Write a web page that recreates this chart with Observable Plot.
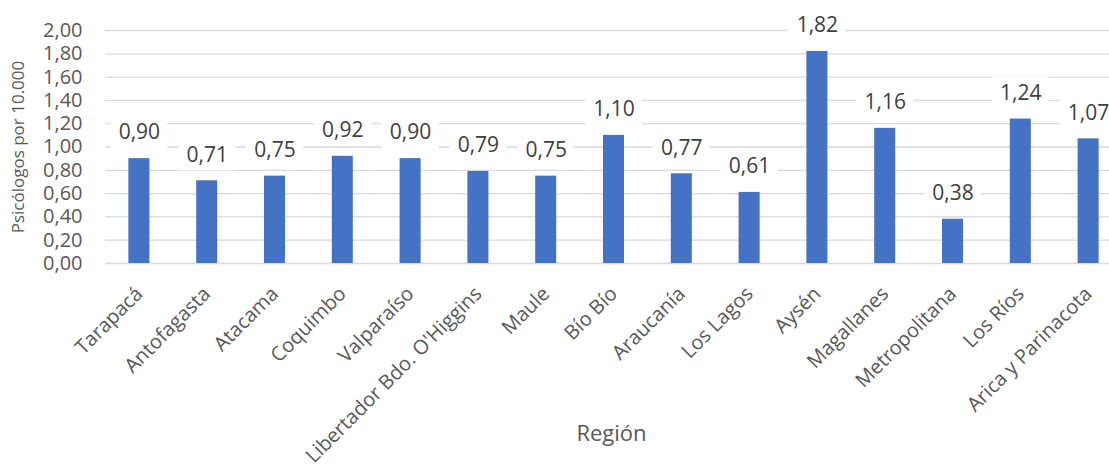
<!DOCTYPE html>
<html>
<head>
<meta charset="utf-8">
<script src="https://cdn.jsdelivr.net/npm/d3@7"></script>
<script src="https://cdn.jsdelivr.net/npm/@observablehq/plot@0.6"></script>
<style>
  body { margin: 0; background: #fff; }
</style>
</head>
<body>
<div id="chart"></div>
<script>
// Psicólogos por cada 10.000 habitantes, por región
const regiones = [
  "Tarapacá", "Antofagasta", "Atacama", "Coquimbo", "Valparaíso",
  "Libertador Bdo. O'Higgins", "Maule", "Bío Bío", "Araucanía", "Los Lagos",
  "Aysén", "Magallanes", "Metropolitana", "Los Ríos", "Arica y Parinacota"
];
const psicologos = [0.90, 0.71, 0.75, 0.92, 0.90, 0.79, 0.75, 1.10, 0.77, 0.61, 1.82, 1.16, 0.38, 1.24, 1.07];
const yTicks = [0, 0.2, 0.4, 0.6, 0.8, 1.0, 1.2, 1.4, 1.6, 1.8, 2.0];
const ejeY = "Psicólogos por 10.000";
const ejeX = "Región";

const data = regiones.map((region, i) => ({ region, valor: psicologos[i] }));
const fmt = v => v.toFixed(2).replace(".", ",");

const chart = Plot.plot({
  width: 1109,
  height: 466,
  marginTop: 30,
  marginBottom: 203,
  marginLeft: 105,
  marginRight: 0,
  style: { fontFamily: "'Open Sans', sans-serif", fontSize: "19px", color: "#595959", background: "#fff" },
  x: { domain: regiones, range: [105, 1122], paddingInner: 0.69, paddingOuter: 0.345, round: false, label: null },
  y: { domain: [0, 2], label: null },
  marks: [
    Plot.ruleY(yTicks, { stroke: "#d9d9d9", strokeWidth: 1.3 }),
    // white label boxes that interrupt the gridlines
    Plot.barY(data, {
      x: "region", y1: "valor", y2: "valor", fill: "white",
      insetTop: -42, insetBottom: 10, insetLeft: -18, insetRight: -18
    }),
    Plot.barY(data, { x: "region", y: "valor", fill: "#4472C4" }),
    Plot.text(data, {
      x: "region", y: "valor", text: d => fmt(d.valor),
      dy: -26, fill: "#404040", fontSize: 21
    }),
    Plot.axisY({ ticks: yTicks, tickFormat: fmt, tickSize: 0, tickPadding: 23, label: null, fontSize: 20, fill: "#595959" }),
    Plot.axisX({ tickRotate: -45, tickSize: 0, tickPadding: 27, label: null, fontSize: 20, fill: "#595959" }),
    Plot.text([ejeY], { frameAnchor: "left", textAnchor: "middle", dx: -87, rotate: -90, fontSize: 17, fill: "#595959" }),
    Plot.text([ejeX], { frameAnchor: "bottom", dx: 4, dy: 177, fontSize: 22, fill: "#595959" })
  ]
});
document.getElementById("chart").appendChild(chart);
</script>
</body>
</html>
